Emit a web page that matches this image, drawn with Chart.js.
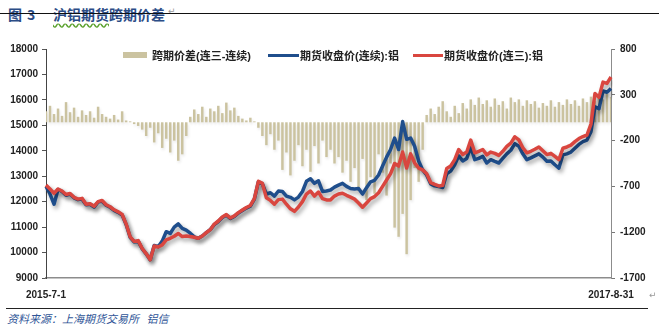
<!DOCTYPE html>
<html>
<head>
<meta charset="utf-8">
<script src="https://cdn.jsdelivr.net/npm/chart.js@4.4.0/dist/chart.umd.min.js"></script>
<style>
  html, body { margin: 0; padding: 0; background: #fff; }
  body { width: 659px; height: 329px; position: relative; overflow: hidden;
         font-family: "Liberation Sans", "Noto Sans CJK SC", sans-serif; }
  .title { position: absolute; top: 4px; font-size: 14px; font-weight: bold;
           color: #2b4c86; font-family: "Noto Sans CJK SC", sans-serif; white-space: nowrap; }
  .title .wavy { text-decoration: underline wavy #5aa02c; text-underline-offset: 3px; }
  .rule-top { position: absolute; left: 0; top: 13px; width: 659px; height: 0; border-top: 1px solid #111; }
  .rule-bottom { position: absolute; left: 6px; top: 308px; width: 642px; height: 0; border-top: 1px solid #222; }
  .source { position: absolute; left: 7px; top: 310px; font-size: 11px; font-style: italic;
            color: #2f5597; font-family: "Noto Sans CJK SC", sans-serif; white-space: nowrap; }
  .mark { position: absolute; font-size: 9px; color: #999; font-family: "DejaVu Sans", sans-serif; }
  #chartBox { position: absolute; left: 0; top: 36px; width: 659px; height: 268px; }
  .legend { position: absolute; top: 47px; left: 0; width: 659px; height: 16px;
            font-size: 11px; font-weight: bold; color: #222;
            font-family: "Liberation Sans", "Noto Sans CJK SC", sans-serif; }
  .legend span { position: absolute; white-space: nowrap; }
  .legend i { position: absolute; display: block; }
</style>
</head>
<body>
<div class="title" style="left:8px;">图</div>
<div class="title" style="left:27px;">3</div>
<div class="title" style="left:53px;"><span class="wavy">沪铝期货</span>跨期价差</div>
<div class="rule-top"></div>
<div class="mark" style="left:168px; top:6px;">↵</div>
<div id="chartBox"><canvas id="spreadChart"></canvas></div>
<div class="legend" id="legend"></div>
<div class="mark" style="left:649px; top:290px;">↵</div>
<div class="rule-bottom"></div>
<div class="source">资料来源：上海期货交易所&nbsp;&nbsp;&nbsp;铝信</div>

<script>
const seriesNames = ["跨期价差(连三-连续)", "期货收盘价(连续):铝", "期货收盘价(连三):铝"];
const xEnds = ["2015-7-1", "2017-8-31"];
const leftTicks = [9000, 10000, 11000, 12000, 13000, 14000, 15000, 16000, 17000, 18000];
const rightTicks = [-1700, -1200, -700, -200, 300, 800];

// 跨期价差 (连三 - 连续), right axis
const spread = [
  120, 180, 90, 150, 70, 220, 110, 160, 60, 130,
  80, 120, 50, 170, 90, 60, 40, 80, 30, 120,
  20, 10, -20, -40, -80, -150, -60, -220, -120, -280,
  -180, -330, -200, -420, -350, -150, 60, 140, 90, 170,
  60, 150, 120, 180, 100, 215, 130, 160, 70, 40,
  20, 50, 10, -60, -150, -250, -130, -300, -200, -520,
  -330, -580, -420, -250, -480, -300, -540, -260, -450, -200,
  -380, -300, -450, -380, -550, -420, -650, -500, -750, -400,
  -850, -600, -780, -350, -550, -800, -450, -1150, -1250, -1000,
  -1440, -850, -500, -650, -300, 80, 150, 90, 170, 230,
  120, 60, 180, 100, 210, 150, 250, 190, 270, 200,
  240, 170, 260, 190, 230, 150, 270, 220, 250, 180,
  240, 200, 230, 160, 210, 180, 240, 170, 220, 190,
  250, 200, 240, 180, 260, 220, 280, 230, 300, 250,
  310, 280
];

// 期货收盘价(连续):铝
const nearClose = [
  12600, 12300, 11900, 12480, 12400, 12250, 12300, 12150, 12080, 12100,
  11880, 11900, 11790, 11980, 12020, 11860, 11780, 11660, 11580, 11480,
  11100, 10600, 10420, 10450, 10150, 9950, 9720, 10280, 10230, 10450,
  10820, 10750, 11000, 11130, 10950, 10880, 10760, 10620, 10560, 10650,
  10780, 10900, 11100, 11220, 11380, 11470, 11340, 11420, 11550, 11650,
  11750, 11820, 12100, 12780, 12700, 12300, 12350, 12220, 12420, 12400,
  12220, 12170, 12070, 12180, 12400, 12800, 12900, 12720, 12820, 12400,
  12420, 12460, 12570, 12650, 12720, 12600, 12520, 12500, 12520, 12300,
  12550, 12780, 12840, 13050, 13400, 13750, 14050, 14500, 14050, 15150,
  14450, 14500, 14180, 13600, 13250, 13050, 12700, 12620, 12590, 12560,
  13100, 13200, 13450, 13800, 13600, 13700, 14150, 13650, 13700, 13780,
  13520, 13650, 13580, 13520, 13700, 13880, 14020, 14280, 14180, 13880,
  13650, 13720, 13800, 13880, 13750, 13590, 13600, 13450, 13320, 13840,
  13880, 13950, 14100, 14250, 14360, 14420, 14750, 15730, 15650, 16350,
  16300, 16450
];

// 期货收盘价(连三):铝
const thirdClose = [
  12650, 12500, 12330, 12500, 12420, 12280, 12320, 12170, 12100, 12130,
  11900, 11920, 11820, 12000, 12050, 11880, 11800, 11680, 11600, 11500,
  11120, 10620, 10440, 10470, 10160, 9960, 9720, 10260, 10220, 10300,
  10500, 10560, 10640, 10750, 10630, 10650, 10630, 10600, 10560, 10650,
  10780, 10900, 11120, 11240, 11400, 11490, 11360, 11440, 11570, 11670,
  11770, 11850, 12120, 12800, 12720, 12150, 12050, 11900, 12080, 12100,
  11900, 11720, 11620, 11790, 12000, 12300, 12420, 12220, 12380, 12120,
  12070, 12070, 12220, 12300, 12330, 12250, 12180, 12100, 11950, 11780,
  11950, 12120, 12200, 12350, 12600, 12850, 13100, 13500, 13400, 13950,
  13320, 13880, 13520, 13320, 13250, 13100, 12750, 12680, 12620, 12640,
  13300, 13400, 13650, 14050, 13850, 13950, 14420, 13920, 13980, 14050,
  13840, 13950, 13900, 13820, 13980, 14170, 14300, 14550, 14430, 14120,
  13920, 13980, 14060, 14150, 14000, 13850, 13900, 13780, 13650, 14100,
  14150, 14220, 14360, 14480, 14560, 14620, 15050, 16250, 16100, 16700,
  16650, 16900
];

const colors = { spread: "#cbc3a0", near: "#1f4e8c", third: "#d9463f" };

// trading dates spread evenly between the two end dates
function buildDates(n) {
  const start = Date.UTC(2015, 6, 1);
  const end = Date.UTC(2017, 7, 31);
  const days = (end - start) / 86400000;
  const out = [];
  for (let i = 0; i < n; i++) {
    const d = new Date(start + Math.round((i * days) / (n - 1)) * 86400000);
    out.push(d.getUTCFullYear() + "-" + (d.getUTCMonth() + 1) + "-" + d.getUTCDate());
  }
  return out;
}
const categories = buildDates(spread.length);

// html legend
function buildLegend() {
  const legend = document.getElementById("legend");
  const items = [
    { sw: [123, 5, 24, 6], color: colors.spread, text: 152 },
    { sw: [268, 7, 31, 3], color: colors.near, text: 300 },
    { sw: [413, 7, 30, 3], color: colors.third, text: 444 },
  ];
  items.forEach((it, i) => {
    const sw = document.createElement("i");
    sw.style.left = it.sw[0] + "px";
    sw.style.top = it.sw[1] + "px";
    sw.style.width = it.sw[2] + "px";
    sw.style.height = it.sw[3] + "px";
    sw.style.background = it.color;
    legend.appendChild(sw);
    const label = document.createElement("span");
    label.style.left = it.text + "px";
    label.style.top = "0px";
    label.textContent = seriesNames[i];
    legend.appendChild(label);
  });
}
buildLegend();

// soft drop shadow under the marks
const shadowPlugin = {
  id: "markShadow",
  beforeDatasetDraw(chart, args) {
    const ctx = chart.ctx;
    ctx.save();
    if (args.meta.type === "line") {
      ctx.shadowColor = "rgba(0,0,0,0.35)";
      ctx.shadowBlur = 4;
      ctx.shadowOffsetX = 2;
      ctx.shadowOffsetY = 3;
    } else {
      ctx.shadowColor = "rgba(0,0,0,0.10)";
      ctx.shadowBlur = 3;
      ctx.shadowOffsetX = 1;
      ctx.shadowOffsetY = 2;
    }
  },
  afterDatasetDraw(chart) {
    chart.ctx.restore();
  },
};

const tickFont = { family: "'Liberation Sans', Arial, sans-serif", size: 10, weight: "bold" };
const plain = (v) => String(v);

const ctx = document.getElementById("spreadChart").getContext("2d");
const spreadChart = new Chart(ctx, {
  type: "bar",
  data: {
    labels: categories,
    datasets: [
      {
        label: seriesNames[0],
        data: spread,
        yAxisID: "y1",
        backgroundColor: colors.spread,
        borderWidth: 0,
        barPercentage: 1,
        categoryPercentage: 0.62,
        order: 3,
      },
      {
        type: "line",
        label: seriesNames[1],
        data: nearClose,
        yAxisID: "y",
        borderColor: colors.near,
        borderWidth: 3.5,
        pointRadius: 0,
        borderJoinStyle: "round",
        tension: 0,
        order: 2,
      },
      {
        type: "line",
        label: seriesNames[2],
        data: thirdClose,
        yAxisID: "y",
        borderColor: colors.third,
        borderWidth: 3.5,
        pointRadius: 0,
        borderJoinStyle: "round",
        tension: 0,
        order: 1,
      },
    ],
  },
  options: {
    responsive: true,
    maintainAspectRatio: false,
    devicePixelRatio: 1,
    animation: false,
    layout: { padding: { top: 13, left: 0, right: 0, bottom: 0 } },
    plugins: {
      legend: { display: false },
      tooltip: { enabled: false },
    },
    scales: {
      x: {
        offset: false,
        grid: { display: false },
        border: { display: true, color: "#8c8c8c", width: 1.5 },
        ticks: {
          autoSkip: false,
          maxRotation: 0,
          padding: 3,
          font: tickFont,
          color: "#222",
          callback: (v, i) => (i === 0 ? xEnds[0] : i === categories.length - 1 ? xEnds[1] : null),
        },
        afterFit: (s) => { s.height = 26; },
      },
      y: {
        position: "left",
        min: 9000,
        max: 18000,
        afterBuildTicks: (s) => { s.ticks = leftTicks.map((v) => ({ value: v })); },
        grid: { drawOnChartArea: false, drawTicks: true, tickLength: 4, tickColor: "#555" },
        border: { display: true, color: "#444", width: 1 },
        ticks: { font: tickFont, color: "#222", padding: 4, callback: plain },
        afterFit: (s) => { s.width = 46; },
      },
      y1: {
        position: "right",
        min: -1700,
        max: 800,
        afterBuildTicks: (s) => { s.ticks = rightTicks.map((v) => ({ value: v })); },
        grid: { drawOnChartArea: false, drawTicks: true, tickLength: 4, tickColor: "#777" },
        border: { display: true, color: "#8c8c8c", width: 1 },
        ticks: { font: tickFont, color: "#222", padding: 5, callback: plain },
        afterFit: (s) => { s.width = 48; },
      },
    },
  },
  plugins: [shadowPlugin],
});
</script>
</body>
</html>
